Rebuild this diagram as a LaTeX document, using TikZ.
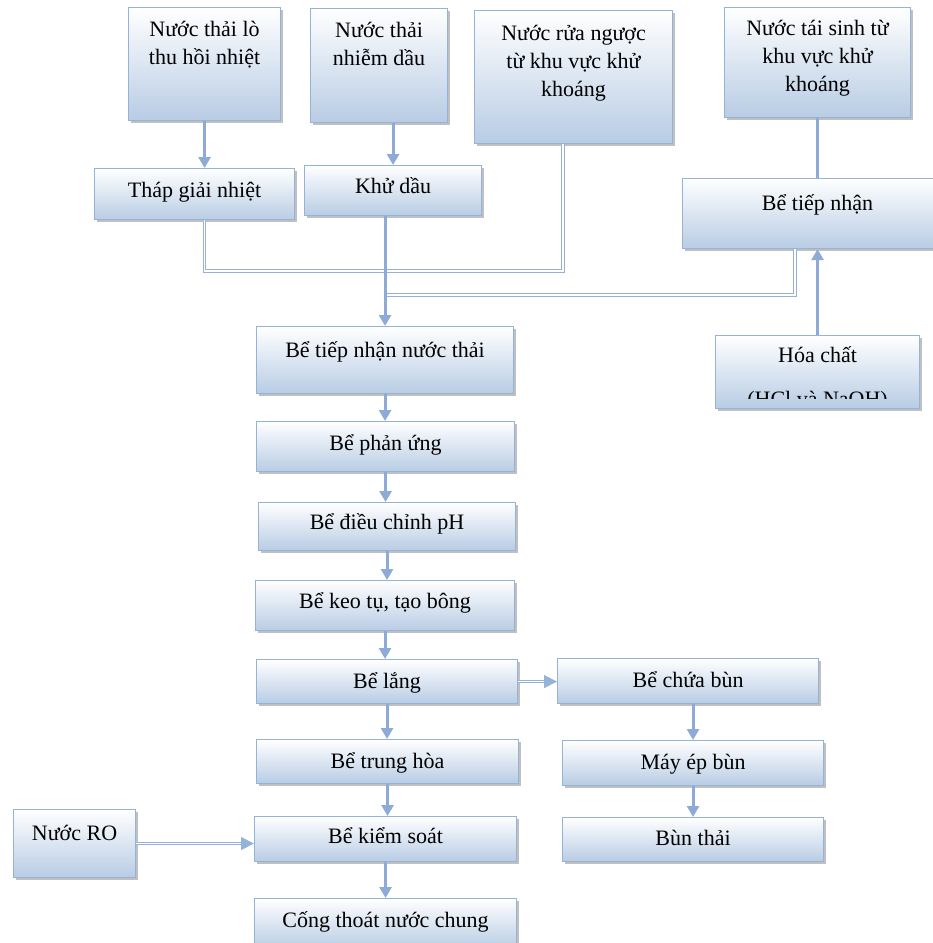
\documentclass[tikz,border=0pt]{standalone}
\usepackage{fontspec}
\setmainfont{Liberation Serif}
\usetikzlibrary{arrows.meta,shadows}

\definecolor{rim}{HTML}{95B3D7}
\definecolor{flowline}{HTML}{8EAAD6}
\definecolor{tankfill}{HTML}{B8CCE4}

\newcommand{\tankfont}{\fontsize{22}{28}\selectfont}

\tikzset{
	tank/.style={draw=rim, line width=1.1pt, top color=white, bottom color=tankfill,
		drop shadow={shadow xshift=2.5pt, shadow yshift=-2.5pt, fill=black!45, opacity=0.55},
		anchor=north west, inner sep=0pt, align=center, font=\tankfont, text height=29pt},
	flow/.style={flowline, line width=3pt, -{Triangle[length=11pt, width=12pt]}},
	pipe/.style={rim, line width=1pt, double=white, double distance=1.6pt},
	pipetip/.style={-{Triangle[length=13pt, width=13pt]}},
}

\begin{document}
\begin{tikzpicture}[x=1pt, y=-1pt]
	\clip (0,0) rectangle (933,943);
	
	% sources
	\node[tank, minimum width=152pt, text height=57pt, text depth=56pt] (nl) at (128,7) {Nước thải lò\\thu hồi nhiệt};
	\node[tank, minimum width=137pt, text height=57pt, text depth=57pt] (nd) at (310,8) {Nước thải\\nhiễm dầu};
	\node[tank, minimum width=198pt, text height=86pt, text depth=47pt] (nr) at (474,10) {Nước rửa ngược\\từ khu vực khử\\khoáng};
	\node[tank, minimum width=186pt, text height=84pt, text depth=26pt] (ts) at (724,7) {Nước tái sinh từ\\khu vực khử\\khoáng};
	
	\node[tank, minimum width=200pt, text depth=22pt] (th) at (94,168) {Tháp giải nhiệt};
	\node[tank, minimum width=177pt, text height=28pt, text depth=22pt] (kd) at (304,165) {Khử dầu};
	\node[tank, minimum width=270pt, text height=32pt, text depth=38pt] (bt) at (682,178) {Bể tiếp nhận};
	\node[tank, minimum width=204pt, text height=27pt, text depth=46pt] (hc) at (715,335) {Hóa chất};
	\begin{scope}
		\clip (hc.north west) rectangle ([yshift=11pt]hc.south east);
		\node[anchor=base, font=\tankfont] (hcl) at ([yshift=-71pt]hc.north) {(HCl và NaOH)};
	\end{scope}
	
	% main line
	\node[tank, minimum width=257pt, text height=31pt, text depth=36pt] (tn) at (256,326) {Bể tiếp nhận nước thải};
	\node[tank, minimum width=258pt, text depth=21pt] (pu) at (256,421) {Bể phản ứng};
	\node[tank, minimum width=257pt, text height=27pt, text depth=21pt] (dc) at (258,502) {Bể điều chỉnh pH};
	\node[tank, minimum width=259pt, text height=28pt, text depth=22pt] (kt) at (255,580) {Bể keo tụ, tạo bông};
	\node[tank, minimum width=261pt, text depth=15pt] (bl) at (256,659) {Bể lắng};
	\node[tank, minimum width=262pt, text depth=15pt] (tr) at (256,739) {Bể trung hòa};
	\node[tank, minimum width=262pt, text height=27pt, text depth=18pt] (ks) at (254,816) {Bể kiểm soát};
	\node[tank, minimum width=262pt, text depth=21pt] (ct) at (254,898) {Cống thoát nước chung};
	
	% sludge
	\node[tank, minimum width=261pt, text depth=16pt] (bc) at (557,658) {Bể chứa bùn};
	\node[tank, minimum width=261pt, text depth=16pt] (me) at (562,740) {Máy ép bùn};
	\node[tank, minimum width=261pt, text height=28pt, text depth=16pt] (bu) at (562,817) {Bùn thải};
	
	\node[tank, minimum width=122pt, text height=31pt, text depth=37pt] (ro) at (13,809) {Nước RO};
	
	\coordinate (j1) at (563,271);
	\coordinate (j2) at (795,295);
	
	\draw[pipe] (th.south -| nl.south) |- (j1) -- (j1 |- nr.south);
	\draw[pipe] (bt.south -| j2) -- (j2) -- (j2 -| tn.north);
	
	\draw[flow] (nl.south) -- (nl.south |- th.north);
	\draw[flow] (nd.south -| kd.north) -- (kd.north);
	\draw[flow] (kd.south -| tn.north) -- (tn.north);
	\draw[flowline, line width=3pt] (ts.south) -- (ts.south |- bt.north);
	\draw[flow] (hc.north) -- (hc.north |- bt.south);
	
	\draw[flow] (tn.south) -- (tn.south |- pu.north);
	\draw[flow] (pu.south) -- (pu.south |- dc.north);
	\draw[flow] (dc.south) -- (dc.south |- kt.north);
	\draw[flow] (kt.south) -- (kt.south |- bl.north);
	\draw[flow] (bl.south) -- (bl.south |- tr.north);
	\draw[flow] (tr.south) -- (tr.south |- ks.north);
	\draw[flow] (ks.south) -- (ks.south |- ct.north);
	
	\draw[pipe, pipetip] (bl.east) -- (bl.east -| bc.west);
	\draw[flow] (me.north |- bc.south) -- (me.north);
	\draw[flow] (me.south) -- (me.south |- bu.north);
	\draw[pipe, pipetip] (ro.east) -- (ro.east -| ks.west);
\end{tikzpicture}
\end{document}
